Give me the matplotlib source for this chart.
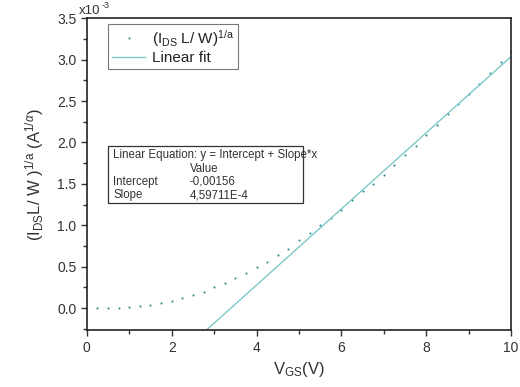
import numpy as np
import matplotlib.pyplot as plt
from matplotlib.patches import Rectangle
from matplotlib.ticker import MultipleLocator

plt.rcParams['font.family'] = ['Liberation Sans', 'DejaVu Sans']
plt.rcParams['mathtext.fontset'] = 'custom'
plt.rcParams['mathtext.rm'] = 'Liberation Sans'
plt.rcParams['mathtext.it'] = 'Liberation Sans:italic'
plt.rcParams['mathtext.sf'] = 'Liberation Sans'

# measured points (V_GS in V, y in units of 1e-3)
vgs = [0.25, 0.5, 0.75, 1.0, 1.25, 1.5, 1.75, 2.0, 2.25, 2.5,
       2.75, 3.0, 3.25, 3.5, 3.75, 4.0, 4.25, 4.5, 4.75, 5.0,
       5.25, 5.5, 5.75, 6.0, 6.25, 6.5, 6.75, 7.0, 7.25, 7.5,
       7.75, 8.0, 8.25, 8.5, 8.75, 9.0, 9.25, 9.5, 9.75, 10.0]
yval = [0.004, 0.0, 0.002, 0.012, 0.028, 0.044, 0.06, 0.088, 0.125, 0.16,
        0.197, 0.253, 0.30, 0.366, 0.43, 0.50, 0.56, 0.64, 0.72, 0.82,
        0.91, 1.00, 1.09, 1.19, 1.30, 1.41, 1.50, 1.61, 1.73, 1.85,
        1.96, 2.09, 2.21, 2.34, 2.46, 2.58, 2.70, 2.84, 2.97, 3.105]

intercept = -0.00156
slope = 4.59711e-4

fig = plt.figure(figsize=(5.2, 3.87), dpi=100)
ax = fig.add_axes([0.167, 0.147, 0.816, 0.806])

xf = np.linspace(0, 10, 200)
yf = (intercept + slope * xf) * 1e3
ax.plot(vgs, yval, ls='none', marker='o', ms=1.5, mew=0, color='#2f8f8f',
        label=r'(I$_{\rm DS}$ L/ W)$^{\rm 1/a}$')
ax.plot(xf, yf, color='#7ec8c8', lw=1.0, label='Linear fit')

ax.set_xlim(0, 10)
ax.set_ylim(-0.265, 3.5)
ax.xaxis.set_major_locator(MultipleLocator(2))
ax.xaxis.set_minor_locator(MultipleLocator(1))
ax.yaxis.set_major_locator(MultipleLocator(0.5))
ax.yaxis.set_minor_locator(MultipleLocator(0.25))
ax.set_yticks(np.arange(0, 3.51, 0.5))
ax.set_yticklabels(['%.1f' % t for t in np.arange(0, 3.51, 0.5)])
ax.tick_params(which='both', direction='out', labelsize=10, color='#333333',
               labelcolor='#333333', width=1)
ax.tick_params(which='major', length=4)
ax.tick_params(which='minor', length=3)
for s in ax.spines.values():
    s.set_linewidth(1.2)
    s.set_color('#222222')

ax.set_xlabel(r'V$_{\rm GS}$(V)', fontsize=12, color='#333333')
ax.set_ylabel(r'(I$_{\rm DS}$L/ W )$^{\rm 1/a}$ (A$^{1/\alpha}$)',
              fontsize=12, color='#333333', labelpad=8)
ax.text(-0.02, 1.005, 'x10', transform=ax.transAxes, fontsize=9.5,
        color='#333333', ha='left', va='bottom')
ax.text(0.035, 1.025, '-3', transform=ax.transAxes, fontsize=6.5,
        color='#333333', ha='left', va='bottom')

leg = ax.legend(loc='upper left', bbox_to_anchor=(0.05, 0.98), fontsize=11,
                frameon=True, fancybox=False, edgecolor='#555555',
                handlelength=2.2, handletextpad=0.4, markerscale=1.0,
                borderpad=0.25, labelspacing=0.15, borderaxespad=0)
leg.get_frame().set_linewidth(0.8)
for t in leg.get_texts():
    t.set_color('#222222')

# fit result box
ax.add_patch(Rectangle((0.05, 0.407), 0.459, 0.183, transform=ax.transAxes,
                       fc='white', ec='#333333', lw=0.9, zorder=3))
rows = [('Linear Equation: y = Intercept + Slope*x', ''),
        ('', 'Value'),
        ('Intercept', '-0,00156'),
        ('Slope', '4,59711E-4')]
for i, (a, b) in enumerate(rows):
    yy = 0.561 - i * 0.043
    ax.text(0.062, yy, a, transform=ax.transAxes, fontsize=8.3,
            va='center', ha='left', color='#333333', zorder=4)
    ax.text(0.243, yy, b, transform=ax.transAxes, fontsize=8.3,
            va='center', ha='left', color='#333333', zorder=4)

fig.savefig('out.png', dpi=100)
